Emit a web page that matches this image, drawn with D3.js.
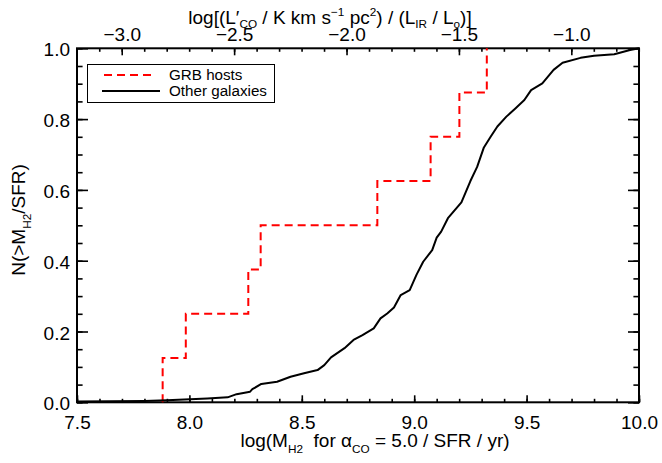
<!DOCTYPE html>
<html>
<head>
<meta charset="utf-8">
<script src="https://cdn.jsdelivr.net/npm/d3@7"></script>
<style>
  body { margin: 0; background: #fff; }
  text { font-family: "Liberation Sans", Arial, Helvetica, sans-serif; fill: #000; }
</style>
</head>
<body>
<div id="chart"></div>
<script>
// GRB host values of log(MH2/SFR), one per host (cumulative steps of 1/8)
var grbHosts = [7.881, 7.984, 8.262, 8.317, 8.836, 9.073, 9.201, 9.323];

// "Other galaxies" cumulative curve
var otherX = [7.50, 7.80, 7.90, 8.08, 8.17, 8.21, 8.27, 8.28, 8.32, 8.39, 8.45, 8.51,
              8.57, 8.60, 8.63, 8.69, 8.73, 8.77, 8.82, 8.85, 8.88, 8.91, 8.94, 8.98,
              9.01, 9.04, 9.08, 9.10, 9.12, 9.15, 9.17, 9.21, 9.25, 9.28, 9.31, 9.34,
              9.37, 9.41, 9.45, 9.49, 9.52, 9.57, 9.62, 9.66, 9.74, 9.80, 9.89, 9.96, 10.0];
var otherY = [0.002, 0.004, 0.006, 0.011, 0.014, 0.023, 0.030, 0.037, 0.052, 0.058, 0.072, 0.082,
              0.091, 0.105, 0.127, 0.153, 0.176, 0.190, 0.209, 0.237, 0.251, 0.268, 0.303, 0.317,
              0.360, 0.397, 0.430, 0.465, 0.482, 0.520, 0.535, 0.565, 0.625, 0.665, 0.720, 0.750,
              0.779, 0.807, 0.830, 0.854, 0.882, 0.901, 0.939, 0.959, 0.973, 0.979, 0.983, 0.995, 1.0];

var xTicks = [7.5, 8.0, 8.5, 9.0, 9.5, 10.0];
var yTicks = [0.0, 0.2, 0.4, 0.6, 0.8, 1.0];
var topTicks = [-3.0, -2.5, -2.0, -1.5, -1.0];
var legendLabels = ["GRB hosts", "Other galaxies"];

var width = 662, height = 463;
var pLeft = 77, pRight = 639, pTop = 48.3, pBottom = 402.3;
var logAlpha = Math.log10(5.0);   // top axis = bottom - log(alpha) - 10
var fs = 19;

var svg = d3.select("#chart").append("svg")
    .attr("width", width).attr("height", height);

var x = d3.scaleLinear().domain([7.5, 10.0]).range([pLeft, pRight]);
var xTop = d3.scaleLinear().domain([7.5 - logAlpha - 10, 10.0 - logAlpha - 10]).range([pLeft, pRight]);
var y = d3.scaleLinear().domain([0, 1]).range([pBottom, pTop]);

var fmt = d3.format(".1f");

function minorOf(scale, step) {
    var d = scale.domain();
    var start = Math.ceil(d[0] / step - 1e-6) * step;
    return d3.range(start, d[1] + step * 0.5, step).filter(function(v) { return v >= d[0] - 1e-9 && v <= d[1] + 1e-9; });
}

function styleAxis(g) {
    g.select(".domain").remove();
    g.selectAll(".tick line").attr("stroke", "#000").attr("stroke-width", 1.6);
    g.selectAll("text").attr("font-size", fs).attr("font-family", null);
}

// bottom axis
svg.append("g").attr("transform", "translate(0," + pBottom + ")")
    .call(d3.axisBottom(x).tickValues(minorOf(x, 0.1)).tickSize(-3.5).tickFormat(""))
    .call(styleAxis);
svg.append("g").attr("transform", "translate(0," + pBottom + ")")
    .call(d3.axisBottom(x).tickValues(xTicks).tickSize(-7).tickPadding(13).tickFormat(fmt))
    .call(styleAxis);

// top axis
svg.append("g").attr("transform", "translate(0," + pTop + ")")
    .call(d3.axisTop(xTop).tickValues(minorOf(xTop, 0.1)).tickSize(-3.5).tickFormat(""))
    .call(styleAxis);
svg.append("g").attr("transform", "translate(0," + pTop + ")")
    .call(d3.axisTop(xTop).tickValues(topTicks).tickSize(-7).tickPadding(7).tickFormat(fmt))
    .call(styleAxis);

// left axis
svg.append("g").attr("transform", "translate(" + pLeft + ",0)")
    .call(d3.axisLeft(y).tickValues(minorOf(y, 0.05)).tickSize(-5.6).tickFormat(""))
    .call(styleAxis);
svg.append("g").attr("transform", "translate(" + pLeft + ",0)")
    .call(d3.axisLeft(y).tickValues(yTicks).tickSize(-11).tickPadding(7).tickFormat(fmt))
    .call(styleAxis)
    .selectAll("text").attr("dy", "0.4em");

// right axis
svg.append("g").attr("transform", "translate(" + pRight + ",0)")
    .call(d3.axisRight(y).tickValues(minorOf(y, 0.05)).tickSize(-5.6).tickFormat(""))
    .call(styleAxis);
svg.append("g").attr("transform", "translate(" + pRight + ",0)")
    .call(d3.axisRight(y).tickValues(yTicks).tickSize(-11).tickFormat(""))
    .call(styleAxis);

// frame
svg.append("rect")
    .attr("x", pLeft).attr("y", pTop)
    .attr("width", pRight - pLeft).attr("height", pBottom - pTop)
    .attr("fill", "none").attr("stroke", "#000").attr("stroke-width", 2);

// GRB host step curve
var grbPts = grbHosts.map(function(v, i) { return [v, i / grbHosts.length]; });
grbPts.push([grbHosts[grbHosts.length - 1], 1.0]);
var stepLine = d3.line()
    .x(function(d) { return x(d[0]); })
    .y(function(d) { return y(d[1]); })
    .curve(d3.curveStepBefore);
svg.append("path")
    .attr("d", stepLine(grbPts))
    .attr("fill", "none").attr("stroke", "#ff0000")
    .attr("stroke-width", 2).attr("stroke-dasharray", "8,5");

// other galaxies
var otherPts = otherX.map(function(v, i) { return [v, otherY[i]]; });
var line = d3.line()
    .x(function(d) { return x(d[0]); })
    .y(function(d) { return y(d[1]); });
svg.append("path")
    .attr("d", line(otherPts))
    .attr("fill", "none").attr("stroke", "#000")
    .attr("stroke-width", 2).attr("stroke-linejoin", "round");

// rich text helper: parts are [string, "n" | "sub" | "sup"]
function richText(g, parts, size, subShift) {
    var t = g.append("text").attr("font-size", size).attr("xml:space", "preserve");
    var shift = 0;
    parts.forEach(function(p) {
        var target = p[1] === "sub" ? size * subShift : (p[1] === "sup" ? -size * 0.4 : 0);
        t.append("tspan")
            .attr("dy", target - shift)
            .attr("font-size", p[1] === "n" ? size : size * 0.62)
            .text(p[0]);
        shift = target;
    });
    return t;
}

// axis titles
richText(svg.append("g").attr("transform", "translate(375,447)"),
    [["log(M", "n"], ["H2", "sub"], ["  for \u03b1", "n"], ["CO", "sub"], [" = 5.0 / SFR / yr)", "n"]], fs, 0.3)
    .attr("text-anchor", "middle");

richText(svg.append("g").attr("transform", "translate(330,24)"),
    [["log[(L\u2032", "n"], ["CO", "sub"], [" / K km s", "n"], ["\u22121", "sup"], [" pc", "n"],
     ["2", "sup"], [") / (L", "n"], ["IR", "sub"], [" / L", "n"], ["o", "sub"], [")]", "n"]], fs, 0.22)
    .attr("text-anchor", "middle");

richText(svg.append("g").attr("transform", "translate(25,220) rotate(-90)"),
    [["N(>M", "n"], ["H2", "sub"], ["/SFR)", "n"]], fs, 0.3)
    .attr("text-anchor", "middle");

// legend
var lg = svg.append("g");
lg.append("rect").attr("x", 87.5).attr("y", 64.5).attr("width", 187).attr("height", 38)
    .attr("fill", "#fff").attr("stroke", "#000").attr("stroke-width", 1);
lg.append("line").attr("x1", 104).attr("x2", 154).attr("y1", 75).attr("y2", 75)
    .attr("stroke", "#ff0000").attr("stroke-width", 2).attr("stroke-dasharray", "8,5");
lg.append("line").attr("x1", 102).attr("x2", 160).attr("y1", 91).attr("y2", 91)
    .attr("stroke", "#000").attr("stroke-width", 2);
lg.selectAll("text.leg").data(legendLabels).enter().append("text")
    .attr("class", "leg")
    .attr("x", 169).attr("y", function(d, i) { return 79.5 + i * 16; })
    .attr("font-size", 15.2)
    .text(function(d) { return d; });
</script>
</body>
</html>
